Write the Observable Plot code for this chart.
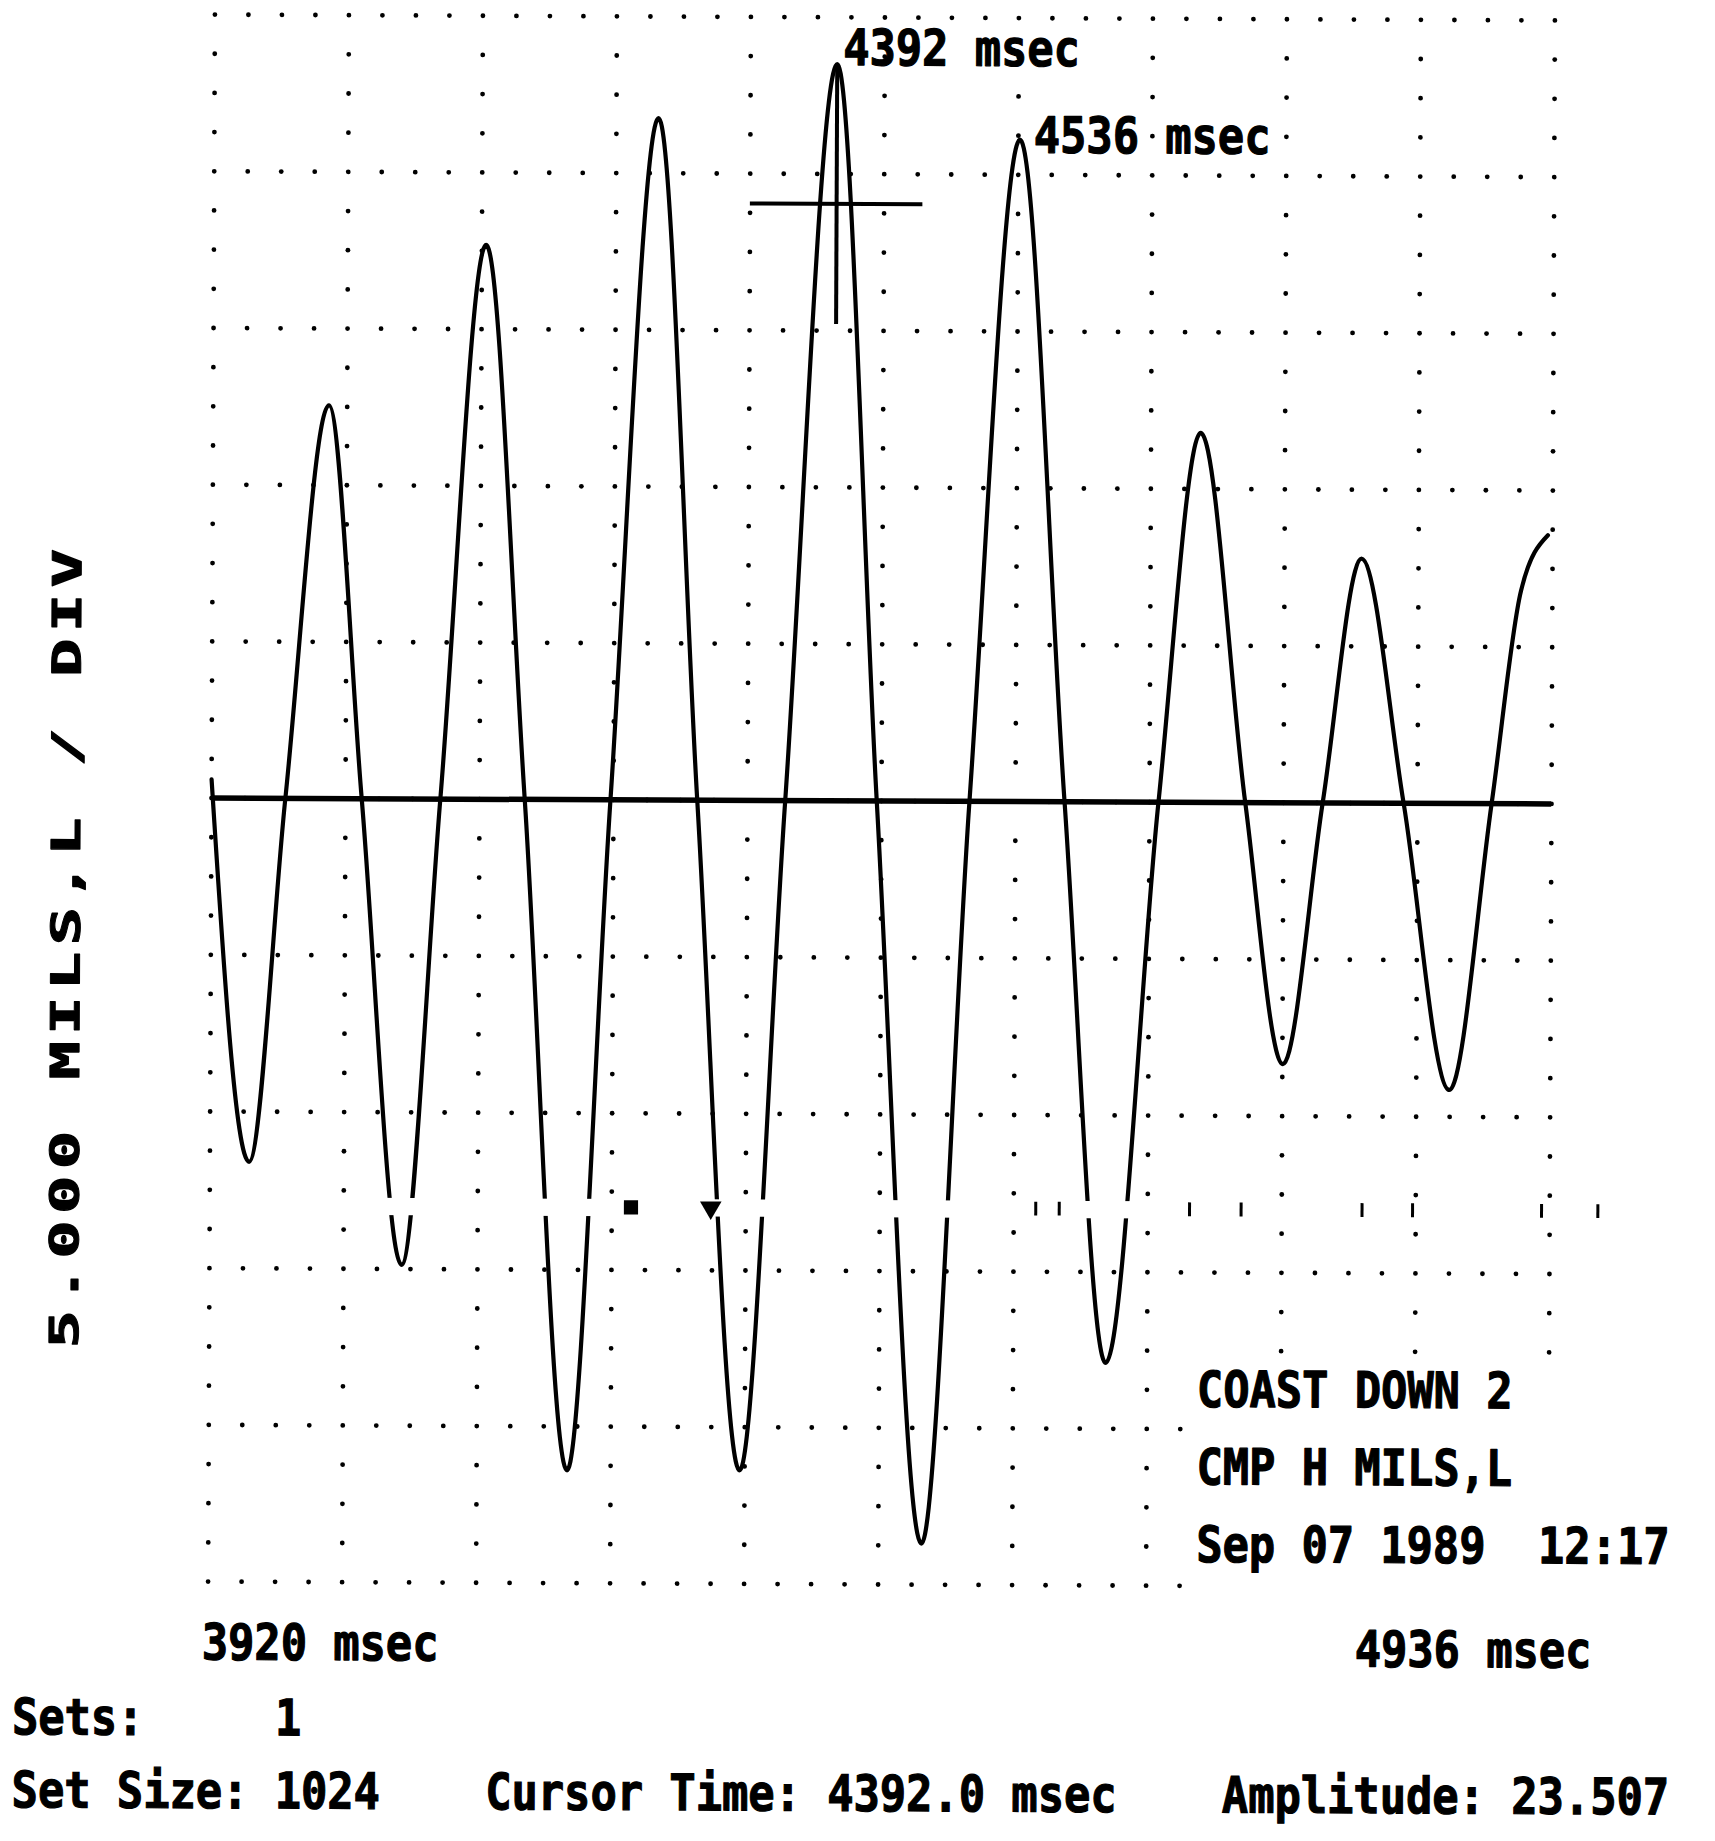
<!DOCTYPE html>
<html><head><meta charset="utf-8">
<script src="https://cdn.jsdelivr.net/npm/d3@7"></script>
<script src="https://cdn.jsdelivr.net/npm/@observablehq/plot@0.6"></script>
<style>
html,body{margin:0;padding:0;background:#fff;}
body{width:1715px;height:1841px;position:relative;overflow:hidden;}
#page{position:absolute;left:0;top:0;width:1715px;height:1841px;transform-origin:881px 800px;transform:rotate(0.25deg);}
#chart{position:absolute;left:0;top:0;}
svg text{white-space:pre;}
.foot{position:absolute;left:14px;font-family:"DejaVu Sans Mono",monospace;font-weight:bold;font-size:50px;line-height:50px;white-space:pre;transform-origin:0 0;transform:scaleX(0.874);color:#000;-webkit-text-stroke:1.2px #000;}
</style></head><body>
<div id="page">
<div id="chart"></div>
<div class="foot" id="f1"></div>
<div class="foot" id="f2"></div>
</div>
<script>
// ---- axes ----
const xDomain = [3920, 4936];          // msec
const yDomain = [-25, 25];             // mils (5.000 per division)
const xDivisions = 10, yDivisions = 10, minorPerDiv = 4;
const yLabel = "5.000 MILS,L / DIV";
const xUnit = "msec";

// ---- trace: extremes and zero crossings ----
const time = [3920, 3949.7, 3976.0, 4007.7, 4033.9, 4065.6, 4093.5, 4126.4, 4157.5, 4191.8, 4222.5,
  4256.7, 4288.3, 4322.6, 4355.0, 4392.0, 4424.4, 4460.7, 4494.7, 4530.8, 4566.8, 4599.8, 4638.0,
  4668.8, 4703.8, 4733.2, 4762.5, 4791.1, 4823.9, 4859.5, 4890.6, 4912.2, 4932.4];
const amplitude = [0.6, -11.6, 0, 12.55, 0, -14.87, 0, 17.69, 0, -21.40, 0,
  21.76, 0, -21.38, 0, 23.507, 0, -23.69, 0, 21.12, 0, -17.90, 0,
  11.79, 0, -8.34, 0, 7.80, 0, -9.14, 0, 6.8, 8.57];

// ---- cursor ----
const cursorTime = 4392.0, cursorAmplitude = 23.507;
const cursorBarTimes = [4326.6, 4457.4];
const cursorBarLevel = 19.05;
const cursorStemLow = 15.2;
const peakLabelTimes = [4392, 4536];
const peakLabelLevels = [23.507, 21.12];

// ---- text ----
const infoLines = ["COAST DOWN 2", "CMP H MILS,L", "Sep 07 1989  12:17"];
const footerLines = ["Sets:     1", "Set Size: 1024    Cursor Time: 4392.0 msec    Amplitude: 23.507"];

// ---- scan artefacts (marker row crossing the trace) ----
const gapTimes = [4040, 4650];
const gapLevels = [-13.3, -12.75];
const markerLevel = -13.0;
const squareMarkerTimes = [4239.4];
const triangleMarkerTimes = [4299.9];
const tickMarkerTimes = [4546.3, 4564.1, 4662.9, 4702.0, 4793.7, 4832.0, 4929.8, 4972.5];

// ---- build tables ----
const trace = time.map((t, i) => ({t, v: amplitude[i]}));
const xStep = (xDomain[1] - xDomain[0]) / xDivisions;
const yStep = (yDomain[1] - yDomain[0]) / yDivisions;
const gridDots = [];
for (let i = 0; i <= xDivisions * minorPerDiv; i++)
  for (let k = 0; k <= yDivisions; k++)
    gridDots.push({t: xDomain[0] + i * xStep / minorPerDiv, v: yDomain[0] + k * yStep});
for (let i = 0; i <= xDivisions; i++)
  for (let k = 0; k <= yDivisions * minorPerDiv; k++)
    if (k % minorPerDiv) gridDots.push({t: xDomain[0] + i * xStep, v: yDomain[0] + k * yStep / minorPerDiv});
// grid is blanked under the info block (lower right)
const blankFromDiv = 7.3, blankBelow = -18;
const visibleDots = gridDots.filter(d => !(d.t > xDomain[0] + blankFromDiv * xStep && d.v < blankBelow));

const mono = "DejaVu Sans Mono, monospace";
const txt = {fontFamily: mono, fontWeight: "bold", fill: "black", stroke: "black", strokeWidth: 1.2,
  fontSize: 50, textAnchor: "start", lineAnchor: "bottom"};

const plot = Plot.plot({
  width: 1715, height: 1680,
  marginLeft: 211, marginRight: 164, marginTop: 17, marginBottom: 96,
  x: {domain: xDomain, axis: null},
  y: {domain: yDomain, axis: null},
  style: {background: "white", overflow: "visible"},
  marks: [
    Plot.dot(visibleDots, {x: "t", y: "v", r: 2.4, fill: "black", stroke: null}),
    Plot.ruleY([0], {stroke: "black", strokeWidth: 5.5}),
    Plot.line(trace, {x: "t", y: "v", curve: "monotone-x", stroke: "black", strokeWidth: 4.2}),
    Plot.ruleY([{v: cursorBarLevel, t1: cursorBarTimes[0], t2: cursorBarTimes[1]}], {y: "v", x1: "t1", x2: "t2", stroke: "black", strokeWidth: 4}),
    Plot.ruleX([{t: cursorTime, v1: cursorStemLow, v2: cursorAmplitude}], {x: "t", y1: "v1", y2: "v2", stroke: "black", strokeWidth: 4}),
    Plot.rect([{t1: gapTimes[0], t2: gapTimes[1], v1: gapLevels[0], v2: gapLevels[1]}], {x1: "t1", x2: "t2", y1: "v1", y2: "v2", fill: "white"}),
    Plot.dot(squareMarkerTimes, {x: d => d, y: () => markerLevel, symbol: "square", r: 8, fill: "black", stroke: null}),
    Plot.dot(triangleMarkerTimes, {x: d => d, y: () => markerLevel, symbol: "triangle", rotate: 180, r: 8, fill: "black", stroke: null}),
    Plot.ruleX(tickMarkerTimes, {x: d => d, y1: () => markerLevel + 0.22, y2: () => markerLevel - 0.22, stroke: "black", strokeWidth: 3}),
    Plot.text([`${peakLabelTimes[0]} ${xUnit}`], {...txt, x: () => peakLabelTimes[0], y: () => peakLabelLevels[0], dx: 6, dy: 1}),
    Plot.text([`${peakLabelTimes[1]} ${xUnit}`], {...txt, x: () => peakLabelTimes[1], y: () => peakLabelLevels[1], dx: 7, dy: 13}),
    Plot.text([`${xDomain[0]} ${xUnit}`], {...txt, frameAnchor: "bottom-left", dx: -6, dy: 78}),
    Plot.text([`${xDomain[1]} ${xUnit}`], {...txt, frameAnchor: "bottom-right", dx: -193, dy: 80}),
    Plot.text([infoLines.join("\n")], {...txt, frameAnchor: "top-left", dx: 988, dy: 1543, lineHeight: 1.55}),
    Plot.text([yLabel], {fontFamily: mono, fontWeight: "bold", fill: "black", stroke: "black", strokeWidth: 1, fontSize: 40,
      frameAnchor: "left", rotate: -90, textAnchor: "middle", lineAnchor: "middle", dx: -144, dy: 148})
  ]
});
document.getElementById("chart").appendChild(plot);

// condensed / expanded glyph cells like the original plotter font
d3.select(plot).selectAll("text").each(function () {
  const isY = this.textContent === yLabel;
  const tr = this.getAttribute("transform") || "";
  this.setAttribute("transform", tr + (isY ? " scale(1.6,1)" : " scale(0.874,1)"));
  if (isY) this.style.letterSpacing = "3.9px";
});

// footer status lines
const f1 = document.getElementById("f1"), f2 = document.getElementById("f2");
f1.textContent = footerLines[0]; f1.style.top = (1738 - 42.3) + "px";
f2.textContent = footerLines[1]; f2.style.top = (1811 - 42.3) + "px";
f1.style.left = f2.style.left = "16px";
</script>
</body></html>
